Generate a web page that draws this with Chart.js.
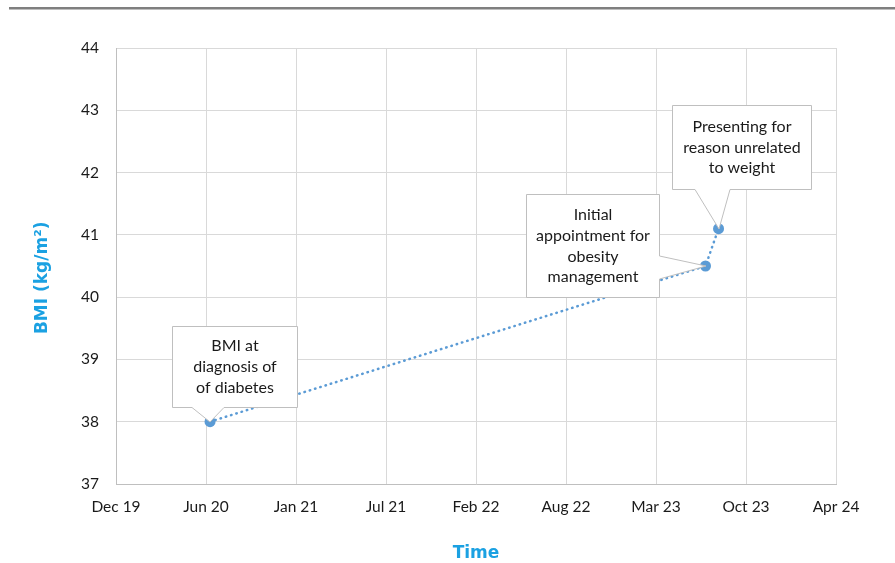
<!DOCTYPE html>
<html>
<head>
<meta charset="utf-8">
<title>BMI over time</title>
<script src="https://cdn.jsdelivr.net/npm/chart.js@4.4.1/dist/chart.umd.min.js"></script>
<style>
  html, body { margin: 0; padding: 0; background: #fff; }
  #wrap { width: 895px; height: 563px; }
</style>
</head>
<body>
<div id="wrap"><canvas id="bmiChart"></canvas></div>
<script>
// x axis counts days from the axis origin, one tick every 200 days
const axisStart = '2019-12-01';
const tickLabels = ['Dec 19', 'Jun 20', 'Jan 21', 'Jul 21', 'Feb 22', 'Aug 22', 'Mar 23', 'Oct 23', 'Apr 24'];
const visitDates = ['2020-06-27', '2023-07-03', '2023-08-01'];
const bmiValues = [38.0, 40.5, 41.1];
const visitNotes = [
    ['BMI at', 'diagnosis of', 'of diabetes'],
    ['Initial', 'appointment for', 'obesity', 'management'],
    ['Presenting for', 'reason unrelated', 'to weight']
];

// callout box placement relative to its point (px), tail = side the pointer leaves from
const calloutLayout = [
    { left: -38, right: 87, top: -96, bottom: -15, tail: 'bottom', a: -18, b: 14 },
    { left: -180, right: -47, top: -72, bottom: 31, tail: 'right', a: -10, b: 13 },
    { left: -47, right: 92, top: -124, bottom: -40, tail: 'bottom', a: -24, b: 11 }
];

const dayMs = 86400000;
let points = visitDates.map((d, i) => ({
    x: (Date.parse(d) - Date.parse(axisStart)) / dayMs,
    y: bmiValues[i]
}));

Chart.defaults.font.family = 'Lato';
Chart.defaults.font.size = 15;
Chart.defaults.color = '#1a1a1a';

const topRule = {
    id: 'topRule',
    beforeDraw(chart) {
        let ctx = chart.ctx;
        ctx.save();
        ctx.fillStyle = '#7f7f7f';
        ctx.fillRect(9, 7, chart.width - 9, 2.5);
        ctx.restore();
    }
};

const callouts = {
    id: 'callouts',
    afterDatasetsDraw(chart) {
        let ctx = chart.ctx;
        let meta = chart.getDatasetMeta(0);
        ctx.save();
        meta.data.forEach((pt, i) => {
            let c = calloutLayout[i];
            let px = Math.round(pt.x), py = Math.round(pt.y);
            let L = px + c.left + 0.5, R = px + c.right + 0.5;
            let T = py + c.top + 0.5, B = py + c.bottom + 0.5;
            ctx.beginPath();
            ctx.moveTo(L, T);
            ctx.lineTo(R, T);
            if (c.tail === 'right') {
                ctx.lineTo(R, py + c.a);
                ctx.lineTo(px, py);
                ctx.lineTo(R, py + c.b);
                ctx.lineTo(R, B);
                ctx.lineTo(L, B);
            } else {
                ctx.lineTo(R, B);
                ctx.lineTo(px + c.b, B);
                ctx.lineTo(px, py);
                ctx.lineTo(px + c.a, B);
                ctx.lineTo(L, B);
            }
            ctx.closePath();
            ctx.fillStyle = '#ffffff';
            ctx.fill();
            ctx.strokeStyle = '#bfbfbf';
            ctx.lineWidth = 1;
            ctx.stroke();

            let lines = visitNotes[i];
            let lh = 20.8;
            let cx = (L + R) / 2;
            let cy = (T + B) / 2 - (lines.length - 1) * lh / 2;
            ctx.fillStyle = '#1a1a1a';
            ctx.font = '16px Lato';
            ctx.textAlign = 'center';
            ctx.textBaseline = 'middle';
            lines.forEach((t, k) => ctx.fillText(t, cx, cy + k * lh));
        });
        ctx.restore();
    }
};

const ctx = document.getElementById('bmiChart').getContext('2d');
const bmiChart = new Chart(ctx, {
    type: 'line',
    data: {
        datasets: [{
            label: 'BMI',
            data: points,
            borderColor: '#5b9bd5',
            backgroundColor: '#5b9bd5',
            borderWidth: 2.5,
            borderDash: [0.5, 5],
            borderCapStyle: 'round',
            pointRadius: 5.5,
            pointBorderWidth: 0,
            pointBackgroundColor: '#5b9bd5',
            fill: false,
            tension: 0
        }]
    },
    options: {
        responsive: true,
        maintainAspectRatio: false,
        animation: false,
        layout: { padding: { top: 48, right: 59, bottom: 0, left: 0 } },
        plugins: {
            legend: { display: false },
            tooltip: { enabled: false }
        },
        scales: {
            x: {
                type: 'linear',
                min: 0,
                max: 1600,
                afterFit: s => { s.height = 79; },
                ticks: {
                    stepSize: 200,
                    padding: 14,
                    maxRotation: 0,
                    font: { size: 15.5 },
                    callback: (v, i) => tickLabels[i]
                },
                grid: { color: '#d9d9d9', drawTicks: false },
                border: { color: '#bfbfbf' },
                title: {
                    display: true,
                    text: 'Time',
                    color: '#1ba1e2',
                    font: { family: 'DejaVu Sans', weight: 'bold', size: 17, lineHeight: 1 },
                    padding: { bottom: 1 }
                }
            },
            y: {
                min: 37,
                max: 44,
                afterFit: s => { s.width = 116; },
                ticks: { stepSize: 1, padding: 17, font: { size: 15.5 } },
                grid: { color: '#d9d9d9', drawTicks: false },
                border: { color: '#bfbfbf' },
                title: {
                    display: true,
                    text: 'BMI (kg/m²)    ',
                    color: '#1ba1e2',
                    font: { family: 'DejaVu Sans', weight: 'bold', size: 17 },
                    padding: { top: 32 }
                }
            }
        }
    },
    plugins: [topRule, callouts]
});
</script>
</body>
</html>
